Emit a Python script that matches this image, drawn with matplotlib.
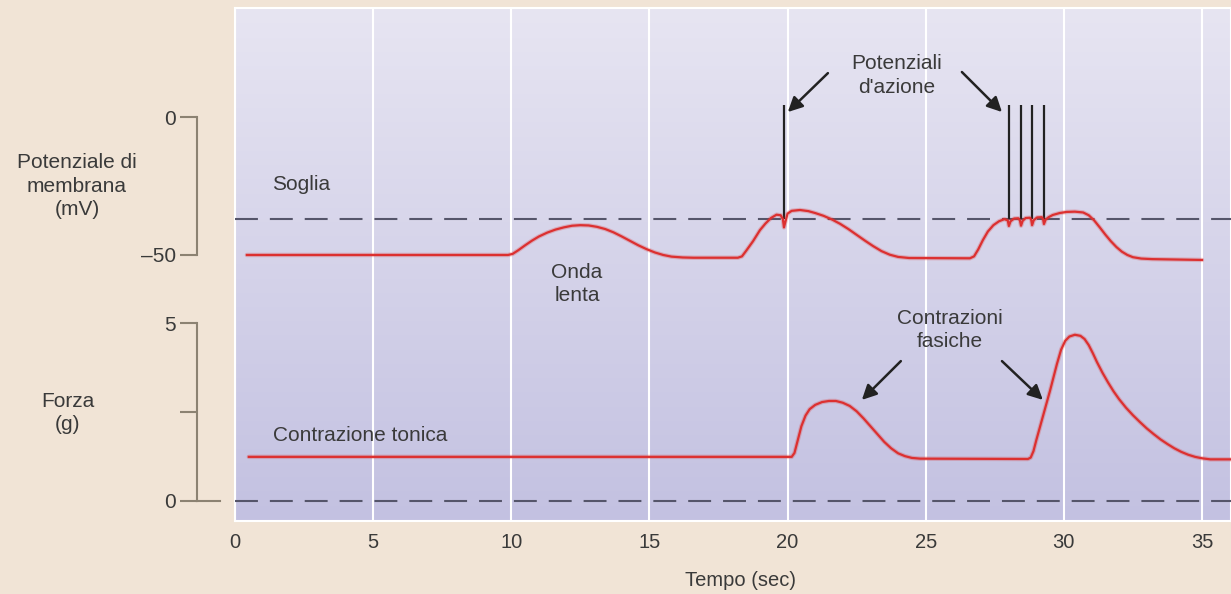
import matplotlib.pyplot as plt
import matplotlib.transforms as mtransforms
import numpy as np

plt.rcParams['font.family'] = ['Liberation Sans', 'DejaVu Sans']
plt.rcParams['lines.scale_dashes'] = False

# membrane potential trace (sec, mV)
mem_t = [0.43, 9.7, 9.88, 10.05, 10.25, 10.5, 10.75, 11.0, 11.3, 11.6, 11.9, 12.2,
         12.5, 12.8, 13.1, 13.4, 13.7, 14.0, 14.3, 14.6, 14.9, 15.2, 15.5, 15.8,
         16.2, 16.6, 18.2, 18.35, 18.5, 18.75, 19.0, 19.2, 19.4, 19.6, 19.75,
         19.83, 19.87, 19.92, 20.0, 20.15, 20.45, 20.75, 21.0, 21.3, 21.6, 21.9,
         22.2, 22.5, 22.8, 23.1, 23.4, 23.7, 24.0, 24.4, 26.6, 26.75, 26.9, 27.07,
         27.25, 27.45, 27.65, 27.85, 27.97, 28.01, 28.07, 28.2, 28.35, 28.41, 28.45,
         28.51, 28.62, 28.77, 28.82, 28.85, 28.91, 29.03, 29.2, 29.25, 29.28, 29.34,
         29.45, 29.6, 29.85, 30.1, 30.4, 30.7, 30.9, 31.1, 31.3, 31.5, 31.7, 31.9,
         32.1, 32.3, 32.5, 32.8, 33.2, 35.0]
mem_v = [-50, -50, -50, -49.6, -48.3, -46.5, -44.8, -43.3, -41.9, -40.8, -40.0, -39.4,
         -39.2, -39.3, -39.8, -40.6, -41.8, -43.3, -44.9, -46.5, -47.9, -49.1, -50.0, -50.6,
         -50.9, -51, -51, -50.5, -48.5, -45, -41, -38.6, -36.6, -35.4, -35.6,
         -37, -40, -38, -35, -34.0, -33.7, -34.1, -34.8, -35.8, -37.1, -38.7,
         -40.6, -42.7, -44.8, -46.8, -48.6, -49.9, -50.7, -51.1, -51.2, -50.5, -48, -44.6,
         -41.5, -39.2, -37.8, -37, -37.5, -39.5, -37.8, -36.8, -36.7, -37.5, -39.4,
         -37.6, -36.6, -36.5, -37.3, -39.2, -37.4, -36.4, -36.3, -37.1, -38.8, -37.2,
         -36.3, -35.5, -34.8, -34.4, -34.3, -34.6, -35.6, -37.5, -40.0, -42.6, -45.0, -47.1,
         -48.8, -50.0, -50.8, -51.3, -51.5, -51.8]

# action potentials
spike_t = [19.87, 28.01, 28.45, 28.85, 29.28]
spike_top = 4.3
threshold = -37

# force trace (sec, g)
force_t = [0.5, 20.15, 20.25, 20.35, 20.5, 20.65, 20.8, 21.0, 21.25, 21.5, 21.75,
           22.0, 22.25, 22.5, 22.75, 23.0, 23.25, 23.5, 23.75, 24.0, 24.25, 24.5,
           24.8, 28.7, 28.8, 28.9, 29.0, 29.25, 29.5, 29.75, 29.9, 30.05, 30.2,
           30.4, 30.6, 30.75, 30.9, 31.05, 31.2, 31.4, 31.6, 31.8, 32.0, 32.25,
           32.5, 32.75, 33.0, 33.25, 33.5, 33.75, 34.0, 34.25, 34.5, 34.75, 35.0,
           35.3, 36.05]
force_g = [1.24, 1.24, 1.35, 1.65, 2.1, 2.4, 2.58, 2.7, 2.78, 2.81, 2.81,
           2.76, 2.67, 2.52, 2.32, 2.1, 1.88, 1.66, 1.48, 1.34, 1.26, 1.21,
           1.19, 1.18, 1.22, 1.4, 1.7, 2.4, 3.1, 3.85, 4.25, 4.5, 4.62,
           4.67, 4.64, 4.55, 4.38, 4.15, 3.9, 3.6, 3.33, 3.08, 2.86, 2.62,
           2.41, 2.22, 2.04, 1.88, 1.73, 1.6, 1.48, 1.38, 1.3, 1.24, 1.2,
           1.17, 1.17]

xticks = [0, 5, 10, 15, 20, 25, 30, 35]

red = '#dc3030'
ink = '#222222'
txt = '#3a3a3a'
spine_c = '#8c8272'
dash_c = '#55556a'

fig = plt.figure(figsize=(12.31, 5.94), dpi=100, facecolor='#f1e4d6')
pos = [235 / 1231, 73 / 594, 996 / 1231, 513 / 594]

# background panel with gradient and x axis
ax = fig.add_axes(pos)
grad = np.linspace(0, 1, 256).reshape(-1, 1)
top_c = np.array([231, 229, 242]) / 255
bot_c = np.array([195, 193, 225]) / 255
img = top_c[None, None, :] * (1 - grad[:, :, None]) + bot_c[None, None, :] * grad[:, :, None]
ax.imshow(img, extent=[0, 1, 0, 1], transform=ax.transAxes, aspect='auto', zorder=0)
ax.set_xlim(0, 36.05)
ax.set_ylim(0, 1)
ax.set_xticks(xticks)
ax.set_yticks([])
ax.grid(axis='x', color='white', lw=1.5, zorder=1)
ax.set_axisbelow(False)
ax.tick_params(axis='x', length=0, pad=9, labelsize=14.5, labelcolor=txt)
for s in ax.spines.values():
    s.set_color('white')
    s.set_linewidth(1.5)
ax.set_xlabel('Tempo (sec)', fontsize=14.5, color=txt)
ax.xaxis.set_label_coords(0.508, -0.098)

# membrane potential axes
ax_v = fig.add_axes(pos, sharex=ax)
ax_v.patch.set_visible(False)
ax_v.set_ylim(-146.4, 39.5)

# force axes
ax_f = fig.add_axes(pos, sharex=ax)
ax_f.patch.set_visible(False)
ax_f.set_ylim(-0.562, 13.85)

for a, bounds, ticks, labels in [(ax_v, (-50, 0), [-50, 0], ['\u201350', '0']),
                                 (ax_f, (0, 5), [0, 2.5, 5], ['0', '', '5'])]:
    for side in ['top', 'right', 'bottom']:
        a.spines[side].set_visible(False)
    a.spines['left'].set_position(('outward', 27.4))
    a.spines['left'].set_bounds(*bounds)
    a.spines['left'].set_color(spine_c)
    a.spines['left'].set_linewidth(1.5)
    a.set_yticks(ticks)
    a.set_yticklabels(labels)
    a.tick_params(axis='y', length=12, width=1.5, color=spine_c, labelsize=15,
                  labelcolor=txt, pad=3)
    a.tick_params(axis='x', bottom=False, labelbottom=False)

# dashed reference lines
ax_v.axhline(threshold, color=dash_c, lw=1.5, linestyle=(0, (16.5, 8.6)))
ax_f.axhline(0, color=dash_c, lw=1.5, linestyle=(0, (16.5, 8.6)))
blend = mtransforms.blended_transform_factory(ax_f.transAxes, ax_f.transData)
ax_f.plot([-38 / 996, -15 / 996], [0, 0], transform=blend, clip_on=False,
          color=spine_c, lw=1.5)

# traces
ax_v.vlines(spike_t, threshold, spike_top, color=ink, lw=1.6)
for a, t, y in [(ax_v, mem_t, mem_v), (ax_f, force_t, force_g)]:
    a.plot(t, y, color=red, lw=3.2, alpha=0.25, solid_capstyle='round',
           solid_joinstyle='round')
    a.plot(t, y, color=red, lw=1.6, solid_joinstyle='round')

# labels
ax_v.text(1.34, -24.6, 'Soglia', fontsize=15, color=txt, ha='left', va='center')
ax_v.text(12.38, -60.5, 'Onda\nlenta', fontsize=15, color=txt, ha='center',
          va='center', linespacing=1.3)
ax_v.text(23.96, 15.0, "Potenziali\nd'azione", fontsize=15, color=txt,
          ha='center', va='center', linespacing=1.3)
ax_f.text(25.88, 4.80, 'Contrazioni\nfasiche', fontsize=15, color=txt,
          ha='center', va='center', linespacing=1.3)
ax_f.text(1.38, 1.83, 'Contrazione tonica', fontsize=15, color=txt,
          ha='left', va='center')

arrow = dict(arrowstyle='-|>', color=ink, lw=1.8, mutation_scale=22,
             shrinkA=0, shrinkB=0)
ax_v.annotate('', xy=(20.01, 1.8), xytext=(21.46, 15.9), arrowprops=arrow)
ax_v.annotate('', xy=(27.76, 1.8), xytext=(26.31, 16.3), arrowprops=arrow)
ax_f.annotate('', xy=(22.69, 2.84), xytext=(24.1, 3.93), arrowprops=arrow)
ax_f.annotate('', xy=(29.24, 2.84), xytext=(27.76, 3.93), arrowprops=arrow)

fig.text(77 / 1231, 1 - 186 / 594, 'Potenziale di\nmembrana\n(mV)', fontsize=15,
         color=txt, ha='center', va='center', linespacing=1.3)
fig.text(68 / 1231, 1 - 413 / 594, 'Forza\n(g)', fontsize=15, color=txt,
         ha='center', va='center', linespacing=1.3)

fig.savefig('out.png', dpi=100, facecolor=fig.get_facecolor())
